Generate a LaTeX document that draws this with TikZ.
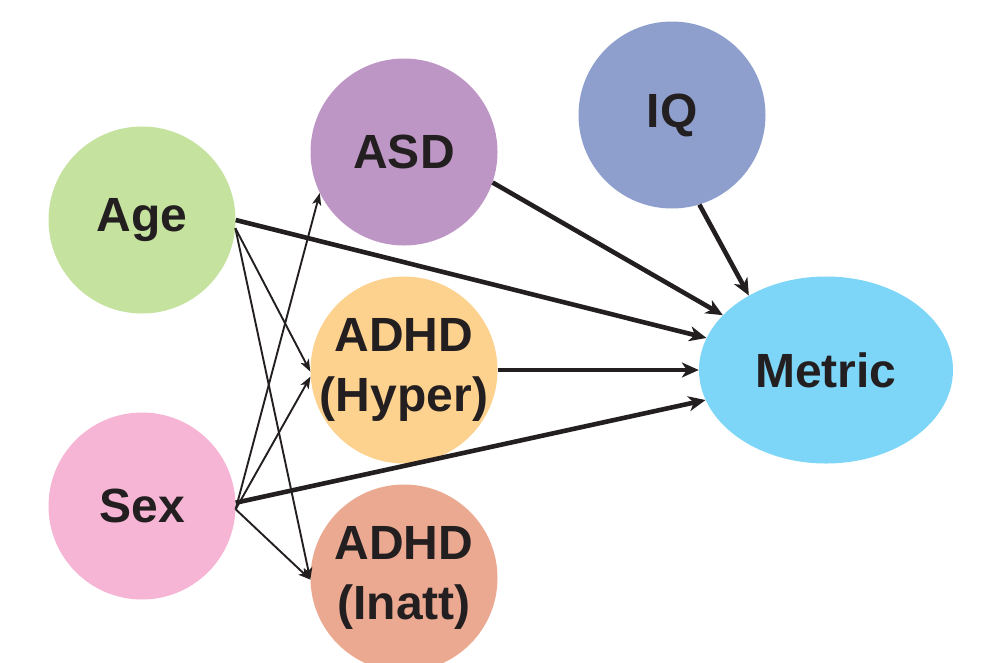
\documentclass[tikz,border=0pt]{standalone}
\usepackage{fontspec}
\setmainfont{Liberation Sans}
\usetikzlibrary{arrows.meta,shapes.geometric}
\definecolor{inkc}{HTML}{231F20}
\definecolor{agec}{HTML}{C5E29E}
\definecolor{sexc}{HTML}{F6B5D5}
\definecolor{asdc}{HTML}{BD96C6}
\definecolor{hyperc}{HTML}{FDD18E}
\definecolor{inattc}{HTML}{EBA992}
\definecolor{iqc}{HTML}{8F9FCD}
\definecolor{metricc}{HTML}{7DD5F7}
\tikzset{
  var/.style={circle, minimum size=187pt, inner sep=0pt, draw=none},
  varname/.style={font=\fontsize{48}{60}\selectfont\bfseries, text=inkc,
    align=center, inner sep=0pt},
  var/.append style={label={[varname]center:#1}},
  heavy/.style={draw=inkc, line width=4.6pt,
    -{Stealth[length=17pt,width=15pt,inset=5pt]}},
  light/.style={draw=inkc, line width=1.9pt,
    -{Stealth[length=12pt,width=9pt,inset=3pt]}},
}
\begin{document}
\begin{tikzpicture}[x=1pt,y=-1pt]
  \useasboundingbox (0,0) rectangle (982,662);
  \clip (0,0) rectangle (982,662);
  % variables (circle shape, name set as a centred label)
  \node[var={Age}, fill=agec]              (Age)   at (142,220) {};
  \node[var={Sex}, fill=sexc]              (Sex)   at (142,506) {};
  \node[var={ASD}, fill=asdc]              (ASD)   at (404,152) {};
  \node[var={ADHD\\(Hyper)}, fill=hyperc]  (Hyper) at (404,370) {};
  \node[var={ADHD\\(Inatt)}, fill=inattc]  (Inatt) at (404,578) {};
  \node[var={IQ}, fill=iqc]                (IQ)    at (672,115) {};
  \node[var={Metric}, ellipse, minimum width=254pt, minimum height=187pt,
        fill=metricc]                      (Metric) at (826,370) {};
  % covariates to diagnoses
  \draw[light] (Age.-5) -- (Hyper.181);
  \draw[light] (Age.-5) -- (Inatt.181);
  \draw[light] (Sex.-2.5) -- (ASD.206);
  \draw[light] (Sex.-2.5) -- (Hyper.184);
  \draw[light] (Sex.-2.5) -- (Inatt.181);
  % everything into the metric
  \draw[heavy] (Age.0) -- (Metric.165);
  \draw[heavy] (Sex.2) -- (Metric.194);
  \draw[heavy] (ASD.-19) -- (Metric.152);
  \draw[heavy] (Hyper.0) -- (Metric.180);
  \draw[heavy] (IQ.-73) -- (Metric.136);
\end{tikzpicture}
\end{document}
